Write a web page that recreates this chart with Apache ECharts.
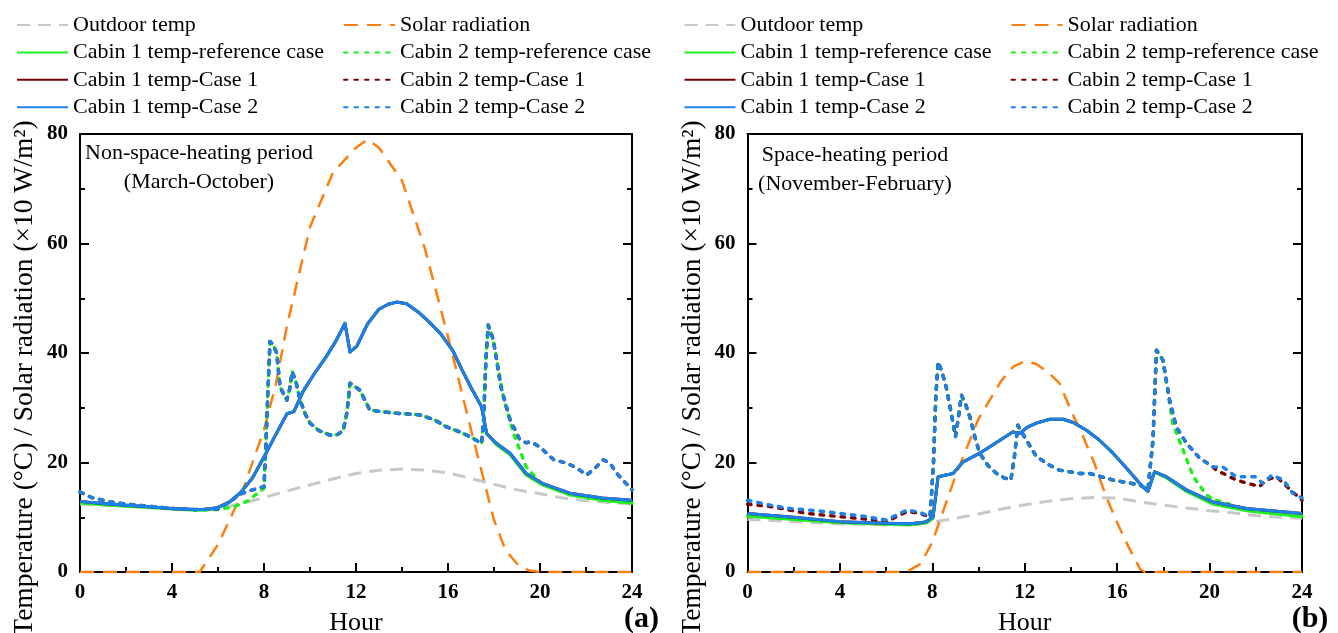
<!DOCTYPE html>
<html>
<head>
<meta charset="utf-8">
<script src="https://cdn.jsdelivr.net/npm/echarts@6.0.0/dist/echarts.min.js"></script>
<style>
html,body{margin:0;padding:0;background:#fff;}
#chart{width:1338px;height:633px;}
</style>
</head>
<body>
<div id="chart"></div>
<script>
// ---------------- DATA ----------------
// Axis ticks
const hourTicks = [0, 4, 8, 12, 16, 20, 24];
const valueTicks = [0, 20, 40, 60, 80];

// ===== Panel (a): Non-space-heating period =====
const hoursHourly = [0,1,2,3,4,5,6,7,8,9,10,11,12,13,14,15,16,17,18,19,20,21,22,23,24];
const outdoorA = [12.4,12.2,12.0,11.8,11.6,11.4,11.5,12.5,13.6,14.8,15.9,17.0,18.0,18.6,18.8,18.6,18.1,17.1,16.0,15.0,14.3,13.5,13.0,12.7,12.4];

const solarA_x = [0,1,2,3,4,5,5.2,6,7,8,8.5,9,10,11,12,12.5,13,14,15,16,17,18,18.5,19,19.5,20,21,22,23,24];
const solarA_y = [0,0,0,0,0,0,0,5,14,26,34,45,63,73,77.5,79,77.5,71.5,59,43,26,9.5,4,1.5,0.3,0,0,0,0,0];

const cabin1A_x = [0,1,2,3,4,5,5.5,6,6.5,7,7.5,8,8.5,9,9.3,9.7,10.2,10.7,11.1,11.52,11.74,12.03,12.5,13,13.4,13.77,14.2,14.7,15.2,15.7,16.2,16.6,17.0,17.46,17.68,18.1,18.7,19.4,20.1,21.3,22.7,24];
const cabin1A_case2 = [12.9,12.5,12.2,11.9,11.6,11.4,11.4,11.8,12.8,14.6,17.2,21.0,25.0,28.9,29.3,33.0,36.3,39.3,42.0,45.4,40.2,41.2,45.3,48.0,48.9,49.3,49.0,47.5,45.6,43.4,40.5,37.0,33.7,30.2,25.3,23.5,21.7,18.0,16.2,14.4,13.5,13.1];
const cabin1A_case1 = [12.9,12.5,12.2,11.9,11.6,11.4,11.4,11.8,12.8,14.6,17.2,21.0,25.0,28.9,29.3,33.0,36.3,39.3,42.0,45.4,40.2,41.2,45.3,48.0,48.9,49.3,49.0,47.5,45.6,43.4,40.5,37.0,33.7,30.2,25.3,23.5,21.7,18.0,16.2,14.4,13.5,13.1];
const cabin1A_ref   = [12.6,12.3,12.0,11.8,11.5,11.3,11.3,11.7,12.7,14.5,17.1,21.0,25.0,28.9,29.3,33.0,36.3,39.3,42.0,45.4,40.2,41.2,45.3,48.0,48.9,49.3,49.0,47.5,45.6,43.4,40.5,37.0,33.7,30.2,25.3,23.3,21.4,17.7,15.9,14.1,13.1,12.6];

const cabin2A_x = [0,0.5,1.3,2,3,4,5,6,6.5,7,7.5,8,8.08,8.17,8.26,8.4,8.55,8.7,8.99,9.12,9.23,9.4,9.57,9.8,10,10.4,10.87,11.2,11.45,11.6,11.74,12.17,12.6,13.04,13.77,14.78,15.4,15.94,16.5,16.96,17.46,17.55,17.65,17.75,17.97,18.3,18.7,19.13,19.4,19.6,20.0,20.6,21.16,21.6,22.03,22.4,22.75,23.04,23.3,23.6,24];
const cabin2A_case2 = [14.6,13.6,12.8,12.4,12.0,11.6,11.4,11.5,12.8,14.3,15.0,15.6,23,33,42.1,41.5,40,33.8,31.4,33.5,36.6,34.5,31.4,28.8,27.2,25.8,25.0,25.1,25.9,29,34.5,33.2,29.6,29.3,29.0,28.7,27.8,26.5,25.6,24.7,23.5,28,39,45.1,42.4,33.8,27.8,24.1,23.6,23.8,22.8,20.5,19.9,19.0,17.7,19.0,20.5,19.9,18.2,16.8,15.0];
const cabin2A_case1 = [14.6,13.6,12.8,12.4,12.0,11.6,11.4,11.5,12.8,14.3,15.0,15.6,23,33,42.1,41.5,40,33.8,31.4,33.5,36.6,34.5,31.4,28.8,27.2,25.8,25.0,25.1,25.9,29,34.5,33.2,29.6,29.3,29.0,28.7,27.8,26.5,25.6,24.7,23.5,28,39,45.1,42.4,33.8,27.8,24.1,23.6,23.8,22.8,20.5,19.9,19.0,17.7,19.0,20.5,19.9,18.2,16.8,15.0];
const cabin2A_ref_x = [0,0.5,1.3,2,3,4,5,6,6.7,7.3,8,8.08,8.17,8.26,8.4,8.55,8.7,8.99,9.12,9.23,9.4,9.57,9.8,10,10.4,10.87,11.2,11.45,11.6,11.74,12.17,12.6,13.04,13.77,14.78,15.4,15.94,16.5,16.96,17.46,17.55,17.65,17.75,17.97,18.4,18.85,19.4,20.0,20.6,21.3,22.7,24];
const cabin2A_ref = [14.6,13.6,12.8,12.4,12.0,11.6,11.4,11.4,11.9,13.0,15.3,23,33,42.1,41.5,40,33.8,31.4,33.5,36.6,34.5,31.4,28.8,27.2,25.8,25.0,25.1,25.9,29,34.5,33.2,29.6,29.3,29.0,28.7,27.8,26.5,25.6,24.7,23.5,28,39,45.1,42.4,32,25.3,19.2,16.4,15.2,14.1,13.1,12.6];

// ===== Panel (b): Space-heating period =====
const outdoorB = [9.6,9.4,9.2,9.0,8.8,8.7,8.6,8.7,9.1,9.8,10.6,11.5,12.3,12.9,13.4,13.6,13.5,12.8,12.2,11.7,11.2,10.8,10.3,10.0,9.8];

const solarB_x = [0,1,2,3,4,5,6,6.6,7,7.5,8,8.5,9,10,11,11.5,12,12.5,13,13.5,14,14.5,15,15.5,16,16.5,17,17.2,18,19,20,21,22,23,24];
const solarB_y = [0,0,0,0,0,0,0,0,0.3,1.5,5.5,11.5,17.5,28,35,37.5,38.5,38,36.5,34.5,29.5,25,20,14,9,4.5,0.5,0,0,0,0,0,0,0,0];

const cabin1B_x = [0,2,4,6,7,7.5,7.75,8.03,8.25,8.9,9.1,9.33,10.05,11.5,11.78,12.1,12.5,13.08,13.66,14.1,14.67,15.2,15.82,16.4,16.97,17.33,17.62,18.13,19,20.14,21.6,24];
const cabin1B_case2 = [10.7,10.0,9.2,8.9,8.8,9.0,9.2,10.1,17.4,18.0,19.0,20.1,21.7,25.6,25.3,26.4,27.2,27.9,27.9,27.3,25.9,24.2,21.7,19.0,16.2,14.7,18.3,17.4,15.0,12.8,11.6,10.7];
const cabin1B_case1 = [10.7,10.0,9.2,8.9,8.8,9.0,9.2,10.1,17.4,18.0,19.0,20.1,21.7,25.6,25.3,26.4,27.2,27.9,27.9,27.3,25.9,24.2,21.7,19.0,16.2,14.7,18.3,17.4,15.0,12.8,11.6,10.7];
const cabin1B_ref   = [10.2,9.6,9.0,8.7,8.6,8.8,9.0,9.8,17.4,18.0,19.0,20.1,21.7,25.6,25.3,26.4,27.2,27.9,27.9,27.3,25.9,24.2,21.7,19.0,16.2,14.7,18.3,17.2,14.7,12.4,11.2,10.1];

const cabin2B_x = [0,1,1.84,3,4,5,6.02,6.4,6.88,7.4,7.9,8.05,8.15,8.25,8.42,8.6,8.75,8.9,9.0,9.12,9.26,9.45,9.62,9.85,10.05,10.4,10.78,11.1,11.4,11.55,11.7,12.07,12.5,13.08,13.5,14.38,14.8,15.82,16.97,17.33,17.45,17.55,17.7,17.98,18.27,18.56,19,19.57,20.14,20.57,21.15,22,22.3,22.7,23.2,23.6,24];
const cabin2B_case2 = [13.1,12.2,11.6,11.2,10.7,10.2,9.5,10.3,11.3,11.0,10.1,20,32,38.4,36.5,33.8,30.5,27.2,24.7,28,32.3,30.5,28.4,24.5,21.7,19.5,18.0,17.2,16.8,21,26.8,24.1,21.1,19.5,18.6,18.0,18.0,16.8,15.9,15.0,20,24.1,40.5,38.7,31.4,26.5,23.5,20.8,19.2,19.2,17.4,17.4,16.2,17.7,16.8,14.4,13.5];
const cabin2B_case1_x = [0,1.1,2.56,4,5,6.02,6.4,6.9,7.4,7.9,8.05,8.15,8.25,8.42,8.6,8.75,8.9,9.0,9.12,9.26,9.45,9.62,9.85,10.05,10.4,10.78,11.1,11.4,11.55,11.7,12.07,12.5,13.08,13.5,14.38,14.8,15.82,16.97,17.33,17.45,17.55,17.7,17.98,18.27,18.56,19,19.57,20.14,20.3,21.15,22.16,22.45,22.9,23.5,24];
const cabin2B_case1 = [12.4,11.9,10.7,10.1,9.7,9.2,10.0,11.0,10.8,10.0,20,32,38.4,36.5,33.8,30.5,27.2,24.7,28,32.3,30.5,28.4,24.5,21.7,19.5,18.0,17.2,16.8,21,26.8,24.1,21.1,19.5,18.6,18.0,18.0,16.8,15.9,15.0,20,24.1,40.5,38.7,31.4,26.5,23.5,20.8,19.2,18.6,16.8,15.6,16.8,17.4,15.0,13.1];
const cabin2B_ref_x = [0,2,4,6,7,7.9,8.05,8.15,8.25,8.42,8.6,8.75,8.9,9.0,9.12,9.26,9.45,9.62,9.85,10.05,10.4,10.78,11.1,11.4,11.55,11.7,12.07,12.5,13.08,13.5,14.38,14.8,15.82,16.97,17.33,17.45,17.55,17.7,17.98,18.4,18.85,19.3,19.86,20.14,21.6,24];
const cabin2B_ref = [10.3,9.7,9.1,8.8,8.7,9.4,20,32,38.4,36.5,33.8,30.5,27.2,24.7,28,32.3,30.5,28.4,24.5,21.7,19.5,18.0,17.2,16.8,21,26.8,24.1,21.1,19.5,18.6,18.0,18.0,16.8,15.9,15.0,20,24.1,40.5,38.7,27.2,22.3,17.4,14.1,13.3,11.4,10.2];

// ---------------- TEXT ----------------
const seriesNames = {
  outdoor: 'Outdoor temp',
  solar: 'Solar radiation',
  c1ref: 'Cabin 1 temp-reference case',
  c2ref: 'Cabin 2 temp-reference case',
  c1k1: 'Cabin 1 temp-Case 1',
  c2k1: 'Cabin 2 temp-Case 1',
  c1k2: 'Cabin 1 temp-Case 2',
  c2k2: 'Cabin 2 temp-Case 2'
};
const yTitle = 'Temperature (°C) / Solar radiation (×10 W/m²)';
const xTitle = 'Hour';
const noteA = ['Non-space-heating period', '(March-October)'];
const noteB = ['Space-heating period', '(November-February)'];

// ---------------- CHART ----------------
const FONT = "'Liberation Serif', 'Times New Roman', serif";
const COL = {
  gray: '#c8c8c8', orange: '#ff7f0e', green: '#1ef01e', red: '#7b0000', blue: '#1a82ea'
};
const DASH_CABIN2 = [3.5, 7];
const DASH_OUT = [13, 8];
const DASH_SOLAR = [14, 9];

function pts(xs, ys) { return xs.map((x, i) => [x, ys[i]]); }

function mk(name, data, color, dash, width, g, cap) {
  return {
    type: 'line', name: name, data: data,
    xAxisIndex: g * 2, yAxisIndex: g * 2,
    symbol: 'none', showSymbol: false, smooth: false, silent: true,
    lineStyle: { color: color, width: width, type: dash || 'solid', cap: cap || 'butt', join: 'round' },
    itemStyle: { color: color }
  };
}

function panelSeries(g, d) {
  return [
    mk(seriesNames.outdoor, d.outdoor, COL.gray, DASH_OUT, 3, g),
    mk(seriesNames.solar, d.solar, COL.orange, DASH_SOLAR, 2.5, g),
    mk(seriesNames.c1ref, d.c1ref, COL.green, 'solid', 3, g),
    mk(seriesNames.c2ref, d.c2ref, COL.green, DASH_CABIN2, 3.4, g, 'round'),
    mk(seriesNames.c1k1, d.c1k1, COL.red, 'solid', 3, g),
    mk(seriesNames.c2k1, d.c2k1, COL.red, DASH_CABIN2, 3.4, g, 'round'),
    mk(seriesNames.c1k2, d.c1k2, COL.blue, 'solid', 3, g),
    mk(seriesNames.c2k2, d.c2k2, COL.blue, DASH_CABIN2, 3.4, g, 'round')
  ];
}

const dataA = {
  outdoor: pts(hoursHourly, outdoorA), solar: pts(solarA_x, solarA_y),
  c1ref: pts(cabin1A_x, cabin1A_ref), c2ref: pts(cabin2A_ref_x, cabin2A_ref),
  c1k1: pts(cabin1A_x, cabin1A_case1), c2k1: pts(cabin2A_x, cabin2A_case1),
  c1k2: pts(cabin1A_x, cabin1A_case2), c2k2: pts(cabin2A_x, cabin2A_case2)
};
const dataB = {
  outdoor: pts(hoursHourly, outdoorB), solar: pts(solarB_x, solarB_y),
  c1ref: pts(cabin1B_x, cabin1B_ref), c2ref: pts(cabin2B_ref_x, cabin2B_ref),
  c1k1: pts(cabin1B_x, cabin1B_case1), c2k1: pts(cabin2B_case1_x, cabin2B_case1),
  c1k2: pts(cabin1B_x, cabin1B_case2), c2k2: pts(cabin2B_x, cabin2B_case2)
};

const AX = { color: '#000', width: 2 };
const TICKFONT = { fontFamily: FONT, fontSize: 21, fontWeight: 700, color: '#000' };
function xAxes(g) {
  return [{
    type: 'value', gridIndex: g, position: 'bottom',
    min: hourTicks[0], max: hourTicks[hourTicks.length - 1], interval: hourTicks[1] - hourTicks[0],
    axisLine: { show: true, onZero: false, lineStyle: AX },
    axisTick: { show: true, inside: true, length: 9, lineStyle: AX },
    minorTick: { show: true, splitNumber: 2, length: 5, lineStyle: AX },
    axisLabel: Object.assign({ margin: 10 }, TICKFONT),
    splitLine: { show: false }, minorSplitLine: { show: false },
    name: xTitle, nameLocation: 'middle', nameGap: 38,
    nameTextStyle: { fontFamily: FONT, fontSize: 26, color: '#000' }
  }, {
    type: 'value', gridIndex: g, position: 'top',
    min: hourTicks[0], max: hourTicks[hourTicks.length - 1], interval: hourTicks[1] - hourTicks[0],
    axisLine: { show: true, onZero: false, lineStyle: AX },
    axisTick: { show: false }, axisLabel: { show: false }, splitLine: { show: false }
  }];
}
function yAxes(g) {
  return [{
    type: 'value', gridIndex: g, position: 'left',
    min: valueTicks[0], max: valueTicks[valueTicks.length - 1], interval: valueTicks[1] - valueTicks[0],
    axisLine: { show: true, onZero: false, lineStyle: AX },
    axisTick: { show: true, inside: true, length: 9, lineStyle: AX },
    minorTick: { show: true, splitNumber: 2, length: 5, lineStyle: AX },
    axisLabel: Object.assign({ margin: 12 }, TICKFONT),
    splitLine: { show: false }, minorSplitLine: { show: false }
  }, {
    type: 'value', gridIndex: g, position: 'right',
    min: valueTicks[0], max: valueTicks[valueTicks.length - 1], interval: valueTicks[1] - valueTicks[0],
    axisLine: { show: true, onZero: false, lineStyle: AX },
    axisTick: { show: true, inside: true, length: 9, lineStyle: AX },
    minorTick: { show: true, splitNumber: 2, length: 5, lineStyle: AX },
    axisLabel: { show: false }, splitLine: { show: false }, minorSplitLine: { show: false }
  }];
}

function legend(left, names) {
  return {
    left: left, top: 14, orient: 'vertical', selectedMode: false,
    itemWidth: 51, itemHeight: 14, itemGap: 5.4, padding: 0,
    itemStyle: { opacity: 0 },
    data: names,
    textStyle: { fontFamily: FONT, fontSize: 22, color: '#000', lineHeight: 22 }
  };
}
const col1 = [seriesNames.outdoor, seriesNames.c1ref, seriesNames.c1k1, seriesNames.c1k2];
const col2 = [seriesNames.solar, seriesNames.c2ref, seriesNames.c2k1, seriesNames.c2k2];

function txt(x, y, s, size, bold, rot) {
  return {
    type: 'text', x: x, y: y, rotation: rot || 0, silent: true,
    style: {
      text: s, fill: '#000', font: (bold ? 'bold ' : '') + size + 'px ' + FONT,
      align: 'center', verticalAlign: 'middle', textAlign: 'center', textVerticalAlign: 'middle'
    }
  };
}

const option = {
  animation: false,
  backgroundColor: '#fff',
  grid: [
    { left: 80, right: 706, top: 134, bottom: 61, containLabel: false, outerBoundsMode: 'none' },
    { left: 747.5, right: 36, top: 134, bottom: 61, containLabel: false, outerBoundsMode: 'none' }
  ],
  legend: [legend(16, col1), legend(343, col2), legend(683.5, col1), legend(1010.5, col2)],
  xAxis: [].concat(xAxes(0), xAxes(1)),
  yAxis: [].concat(yAxes(0), yAxes(1)),
  series: [].concat(panelSeries(0, dataA), panelSeries(1, dataB)),
  graphic: [
    txt(25, 378, yTitle, 27.5, false, Math.PI / 2),
    txt(693, 378, yTitle, 27.5, false, Math.PI / 2),
    txt(199, 153, noteA[0], 22),
    txt(199, 182, noteA[1], 22),
    txt(855, 155, noteB[0], 22),
    txt(855, 184, noteB[1], 22),
    txt(641.5, 619, '(a)', 30, true),
    txt(1310, 619, '(b)', 30, true)
  ]
};

const chart = echarts.init(document.getElementById('chart'), null, { renderer: 'canvas' });
chart.setOption(option);
</script>
</body>
</html>
